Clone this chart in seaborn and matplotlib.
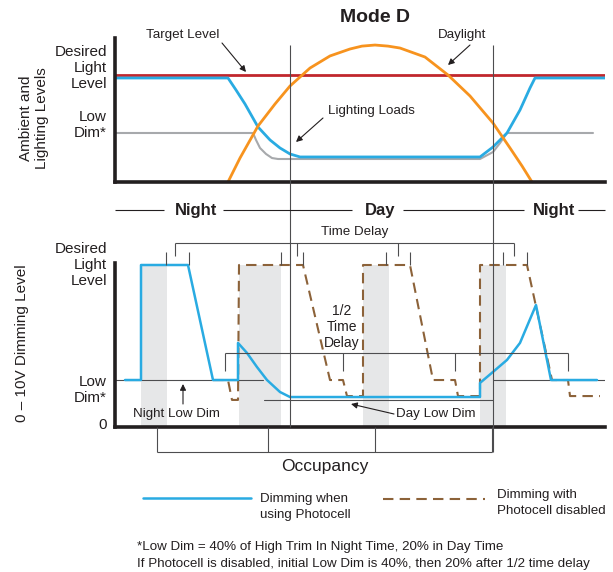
import matplotlib
matplotlib.use("Agg")
import matplotlib.pyplot as plt
import seaborn as sns

# ---------------- data (time runs left->right in arbitrary units) ----------------
# Upper panel: ambient and lighting levels (1.0 = desired light level)
target_t = [115, 605]
target_v = [1.0, 1.0]
loads_t = [115, 228, 236, 245, 258, 270, 280, 290, 300, 480, 493, 507, 520, 530, 535, 605]
loads_v = [0.972, 0.972, 0.860, 0.729, 0.514, 0.393, 0.318, 0.262, 0.234, 0.234, 0.327, 0.458, 0.673, 0.879, 0.972, 0.972]
lowdim_t = [115, 253, 256, 260, 266, 272, 278, 480, 493, 500, 507, 593]
lowdim_v = [0.458, 0.458, 0.393, 0.318, 0.262, 0.224, 0.215, 0.215, 0.280, 0.364, 0.458, 0.458]
daylight_t = [228, 240, 258, 275, 290, 310, 330, 350, 362, 375, 388, 400, 425, 448, 470, 493, 510, 522, 532]
daylight_v = [0, 0.224, 0.523, 0.729, 0.897, 1.065, 1.178, 1.243, 1.27, 1.280, 1.27, 1.252, 1.168, 1.0, 0.804, 0.551, 0.318, 0.150, 0]

# Lower panel: 0-10V dimming level (1.0 = desired light level)
photo_t = [125, 141, 141, 188, 213, 238, 238, 247, 257, 267, 280, 290, 480, 480, 493, 507, 520, 536, 551, 597]
photo_v = [0.29, 0.29, 1.0, 1.0, 0.29, 0.29, 0.519, 0.457, 0.370, 0.290, 0.216, 0.185, 0.185, 0.272, 0.340, 0.414, 0.519, 0.753, 0.29, 0.29]
nophoto_t = [213, 228, 232, 238, 239, 303, 330, 343, 347, 363, 363, 410, 433, 455, 458, 480, 480, 527, 552, 568, 570, 600]
nophoto_v = [0.29, 0.29, 0.167, 0.167, 1.0, 1.0, 0.29, 0.29, 0.191, 0.191, 1.0, 1.0, 0.29, 0.29, 0.191, 0.191, 1.0, 1.0, 0.29, 0.29, 0.191, 0.191]
occupied_start = [141, 239, 363, 480]
occupied_end = [167, 281, 389, 506]
night_low = 0.29
day_low = 0.167
dawn_t = 290
dusk_t = 493

# ---------------- style ----------------
sns.set_theme(style="white")
plt.rcParams['font.family'] = ['Liberation Sans', 'DejaVu Sans']
SMALL = 9.6
INK = '#231f20'
BLUE = '#29abe2'
ORANGE = '#f7931e'
RED = '#c1272d'
GRAY = '#a7a9ac'
BROWN = '#8c6239'
SHADE = '#e6e7e8'
THIN = '#4d4d4f'

W, H = 613, 572
fig = plt.figure(figsize=(W / 100, H / 100), dpi=100)

def rect(x0, y_top, x1, y_bot):
    return [x0 / W, 1 - y_bot / H, (x1 - x0) / W, (y_bot - y_top) / H]

ax_top = fig.add_axes(rect(115, 38, 605, 182))
ax_bot = fig.add_axes(rect(115, 263, 605, 427))
for ax in (ax_top, ax_bot):
    ax.set_facecolor('none')
    ax.set_xlim(115, 605)
    ax.set_xticks([]); ax.set_yticks([])
    sns.despine(ax=ax)
    for s in ('left', 'bottom'):
        ax.spines[s].set_linewidth(2.6)
        ax.spines[s].set_color(INK)
ax_top.set_ylim(0, 144 / 107)
ax_bot.set_ylim(0, 164 / 162)

# upper panel curves
sns.lineplot(x=lowdim_t, y=lowdim_v, ax=ax_top, color=GRAY, lw=1.5, estimator=None, sort=False)
sns.lineplot(x=target_t, y=target_v, ax=ax_top, color=RED, lw=2.0, estimator=None, sort=False)
sns.lineplot(x=loads_t, y=loads_v, ax=ax_top, color=BLUE, lw=2.0, estimator=None, sort=False)
sns.lineplot(x=daylight_t, y=daylight_v, ax=ax_top, color=ORANGE, lw=2.0, estimator=None, sort=False)

# lower panel
for a, b in zip(occupied_start, occupied_end):
    ax_bot.axvspan(a, b, ymin=0, ymax=1.0 / (164 / 162), color=SHADE, lw=0, zorder=0)
ax_bot.plot([115, 263], [night_low, night_low], color=THIN, lw=0.8, zorder=1)
ax_bot.plot([264, dusk_t], [day_low, day_low], color=THIN, lw=0.8, zorder=1)
ax_bot.plot([dusk_t, 605], [night_low, night_low], color=THIN, lw=0.8, zorder=1)
sns.lineplot(x=nophoto_t, y=nophoto_v, ax=ax_bot, color=BROWN, lw=1.5, linestyle=(0, (5, 3)),
             estimator=None, sort=False)
sns.lineplot(x=photo_t, y=photo_v, ax=ax_bot, color=BLUE, lw=1.8, estimator=None, sort=False)

# ---------------- overlay for annotations ----------------
ov = fig.add_axes([0, 0, 1, 1])
ov.set_xlim(0, W); ov.set_ylim(H, 0)
ov.axis('off')
ov.set_facecolor('none')

def seg(x0, y0, x1, y1, c=THIN, lw=0.8):
    ov.plot([x0, x1], [y0, y1], color=c, lw=lw, solid_capstyle='butt')

# dawn / dusk lines
seg(dawn_t, 45, dawn_t, 427)
seg(dusk_t, 45, dusk_t, 452)

ov.text(375, 18, 'Mode D', ha='center', va='center', fontsize=14, fontweight='bold', color=INK)

def arrow(tail, tip):
    ov.annotate('', xy=tip, xytext=tail,
                arrowprops=dict(arrowstyle='-|>', lw=0.8, color=INK, mutation_scale=9, shrinkA=0, shrinkB=0))

ov.text(183, 35, 'Target Level', ha='center', va='center', fontsize=SMALL, color=INK)
arrow((222, 43), (246, 72))
ov.text(462, 35, 'Daylight', ha='center', va='center', fontsize=SMALL, color=INK)
arrow((470, 45), (448, 65))
ov.text(328, 111, 'Lighting Loads', ha='left', va='center', fontsize=SMALL, color=INK)
arrow((323, 118), (296, 142))

# y labels
lab = dict(ha='right', va='center', fontsize=11, color=INK, linespacing=1.2)
ov.text(107, 68, 'Desired\nLight\nLevel', **lab)
ov.text(107, 125, 'Low\nDim*', **lab)
ov.text(107, 265, 'Desired\nLight\nLevel', **lab)
ov.text(107, 390, 'Low\nDim*', **lab)
ov.text(107, 425, '0', **lab)
ov.text(34, 118, 'Ambient and\nLighting Levels', ha='center', va='center', rotation=90,
        fontsize=11, color=INK, linespacing=1.1)
ov.text(22, 343, '0 – 10V Dimming Level', ha='center', va='center', rotation=90, fontsize=11, color=INK)

# Night / Day band
seg(115, 210, 164, 210, c=INK)
seg(223, 210, 352, 210, c=INK)
seg(403, 210, 524, 210, c=INK)
seg(578, 210, 605, 210, c=INK)
for x, s in [(196, 'Night'), (380, 'Day'), (554, 'Night')]:
    ov.text(x, 210, s, ha='center', va='center', fontsize=12, fontweight='bold', color=INK)

# Time delay bracket
ov.text(355, 232, 'Time Delay', ha='center', va='center', fontsize=SMALL, color=INK)
seg(175, 243, 514, 243)
for x in (175, 297, 398, 514):
    seg(x, 243, x, 256)
for x in (166, 189, 281, 303, 386, 410, 503, 527):
    seg(x, 252, x, 265)

# 1/2 time delay bracket
ov.text(342, 327, '1/2\nTime\nDelay', ha='center', va='center', fontsize=SMALL + 0.4,
        color=INK, linespacing=1.15)
seg(225, 353, 568, 353)
for x in (225, 343, 455, 568):
    seg(x, 353, x, 371)

ov.text(176, 414, 'Night Low Dim', ha='center', va='center', fontsize=SMALL, color=INK)
arrow((183, 404), (183, 384))
ov.text(436, 414, 'Day Low Dim', ha='center', va='center', fontsize=SMALL, color=INK)
arrow((394, 414), (351, 404))

# Occupancy bracket
for x in (157, 268, 375, 492):
    seg(x, 427, x, 452)
seg(157, 452, 492, 452)
ov.text(325, 467, 'Occupancy', ha='center', va='center', fontsize=12.5, color=INK)

# legend
ov.plot([143, 251], [498, 498], color=BLUE, lw=1.8)
ov.text(260, 507, 'Dimming when\nusing Photocell', ha='left', va='center', fontsize=SMALL,
        color=INK, linespacing=1.35)
ov.plot([383, 485], [499, 499], color=BROWN, lw=1.5, linestyle=(0, (5, 3)))
ov.text(497, 503, 'Dimming with\nPhotocell disabled', ha='left', va='center', fontsize=SMALL,
        color=INK, linespacing=1.35)

ov.text(137, 547, '*Low Dim = 40% of High Trim In Night Time, 20% in Day Time',
        ha='left', va='center', fontsize=SMALL, color=INK)
ov.text(137, 564, 'If Photocell is disabled, initial Low Dim is 40%, then 20% after 1/2 time delay',
        ha='left', va='center', fontsize=SMALL, color=INK)

fig.savefig('out.png', dpi=100)
